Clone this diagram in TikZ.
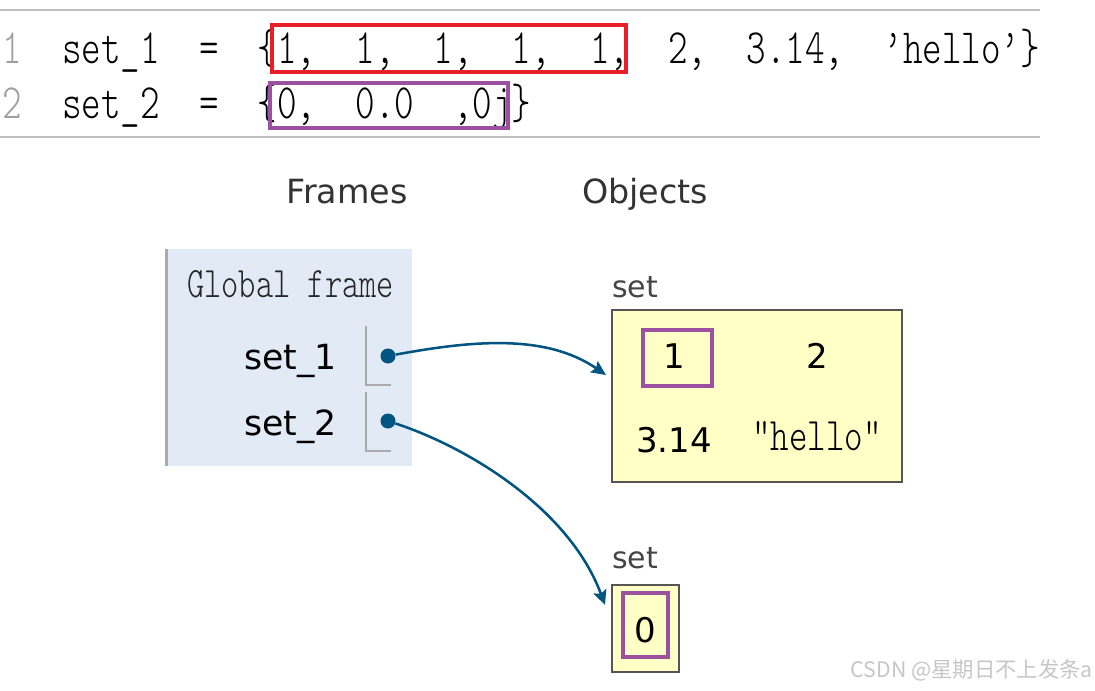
\documentclass[tikz,border=0pt]{standalone}
\usepackage{fontspec}
\setmainfont{DejaVu Sans}
\newfontfamily\codefont[FakeStretch=0.755]{Latin Modern Mono Light}
\newfontfamily\cjkfont{Noto Sans CJK SC}
\usetikzlibrary{arrows.meta}
\definecolor{ptrblue}{RGB}{0,84,130}
\definecolor{rulegray}{RGB}{190,190,190}
\definecolor{slotgray}{RGB}{170,170,170}
\definecolor{framebg}{RGB}{226,234,246}
\definecolor{objfill}{RGB}{255,255,198}
\definecolor{objedge}{RGB}{85,85,85}
\definecolor{hlred}{RGB}{232,30,40}
\definecolor{hlpurple}{RGB}{155,80,160}
\frenchspacing

\begin{document}
\begin{tikzpicture}[x=0.75pt,y=-0.75pt,
  codeline/.style={anchor=base west,inner sep=0,text=black,font=\codefont\fontsize{37}{40}\selectfont},
  lineno/.style={anchor=base,inner sep=0,text=gray!75,font=\codefont\fontsize{37}{40}\selectfont},
  heading/.style={anchor=base,inner sep=0,text=black!80,font=\fontsize{25}{30}\selectfont},
  varname/.style={anchor=base east,inner sep=0,font=\fontsize{26}{30}\selectfont},
  objlabel/.style={anchor=base west,inner sep=0,text=black!73,font=\fontsize{22.5}{27}\selectfont},
  objval/.style={anchor=base,inner sep=0,font=\fontsize{25.5}{30}\selectfont},
  objbox/.style={draw=objedge,fill=objfill,line width=1.5pt,inner sep=0},
  elembox/.style={draw=hlpurple,line width=2.4pt,inner sep=0},
  slotline/.style={slotgray,line width=1.2pt},
  ptrdot/.style={circle,fill=ptrblue,inner sep=0,minimum size=11.25pt},
  ptrarrow/.style={ptrblue,line width=1.9pt,-{Stealth[length=11pt,width=10pt,inset=2pt]}}]
\useasboundingbox (0,0) rectangle (1095,690);

% code listing
\draw[rulegray,line width=1.5pt] (0,10) -- (1040,10);
\draw[rulegray,line width=1.5pt] (0,137) -- (1040,137);
\node[lineno] (num1) at (12,63) {1};
\node[lineno] (num2) at (12,118) {2};
\node[codeline] (code1) at (62,63) {set\_1~~=~~\{1,~~1,~~1,~~1,~~1,~~2,~~3.14,~~’hello’\}};
\node[codeline] (code2) at (62,118) {set\_2~~=~~\{0,~~0.0~~,0j\}};
\draw[hlred,line width=2.5pt] (272,25) rectangle (626,72);
\draw[hlpurple,line width=2.5pt] (270,83) rectangle (508,128);

% headings
\node[heading] (frames) at (347,203) {Frames};
\node[heading] (objects) at (645,203) {Objects};

% global frame
\node[fill=framebg,minimum width=183.75pt,minimum height=162.75pt,inner sep=0] (gframe) at (289.5,357.5) {};
\draw[slotgray,line width=2pt] (gframe.north west) -- (gframe.south west);
\node[anchor=base west,inner sep=0,text=black!85,font=\codefont\fontsize{32.6}{36}\selectfont] (gtitle) at (187,297) {Global frame};
\node[varname] (v1) at (337,369) {set\_1};
\node[varname] (v2) at (337,435) {set\_2};
\draw[slotline] (366,326) |- (391,385);
\draw[slotline] (366,392) |- (391,451);

% objects
\node[objlabel] (lab1) at (612,297) {set};
\node[objbox,minimum width=217.5pt,minimum height=129pt] (obj1) at (757,396) {};
\node[elembox,minimum width=51.75pt,minimum height=42pt] (el1) at (677.5,358) {};
\node[objval] (val1) at (674,368) {1};
\node[objval] (val2) at (817,368) {2};
\node[objval] (val3) at (674,452) {3.14};
\node[anchor=base,inner sep=0,font=\codefont\fontsize{35}{38}\selectfont] (val4) at (817,450) {”hello”};

\node[objlabel] (lab2) at (612,568) {set};
\node[objbox,minimum width=50.25pt,minimum height=65.25pt] (obj2) at (645.5,628.5) {};
\node[elembox,minimum width=33.75pt,minimum height=48pt] (el2) at (645.5,625) {};
\node[objval] (val5) at (645,642) {0};

% pointers
\coordinate (tip1) at (606,375);
\coordinate (tip2) at (605,605);
\node[ptrdot] (ptr1) at (388,356) {};
\node[ptrdot] (ptr2) at (388,421) {};
\draw[ptrarrow] (ptr1) .. controls (470,341) and (545,333) .. (tip1);
\draw[ptrarrow] (ptr2) .. controls (470,448) and (570,510) .. (tip2);

\node[anchor=base east,inner sep=0,text=gray!45,font=\cjkfont\fontsize{16}{20}\selectfont] (mark) at (1093,677) {CSDN @星期日不上发条a};
\end{tikzpicture}
\end{document}
